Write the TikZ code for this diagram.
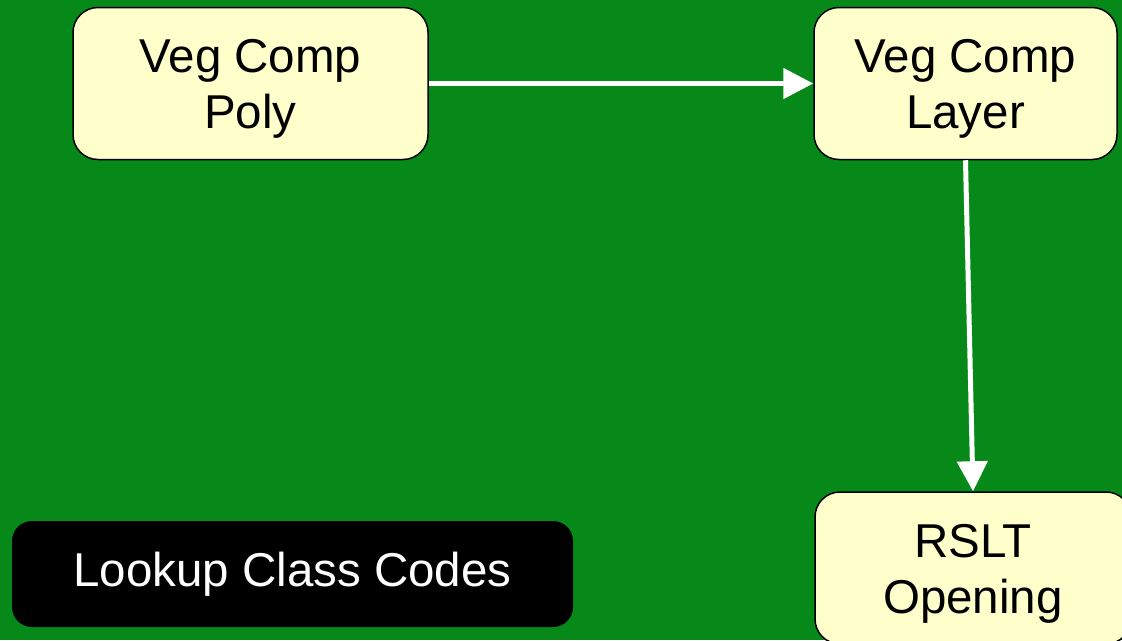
\documentclass[tikz,border=0pt]{standalone}
\usepackage{fontspec}
\setmainfont{Liberation Sans}
\usetikzlibrary{arrows.meta}
\definecolor{bggreen}{HTML}{07891A}
\definecolor{boxfill}{HTML}{FFFFCC}
\tikzset{
  procbox/.style={draw=black, line width=1.5pt, fill=boxfill, rounded corners=25pt,
    minimum height=152pt, inner sep=0pt, align=center, text=black,
    text height=100pt, text depth=10pt,
    font=\fontsize{47.5}{56}\selectfont},
  darkbox/.style={draw=none, fill=black, rounded corners=20pt,
    minimum height=106pt, inner sep=0pt, align=center, text=white,
    font=\fontsize{47.5}{56}\selectfont},
  flow/.style={draw=white, line width=5pt, -{Triangle[length=30pt,width=30pt]}}
}
\begin{document}
\begin{tikzpicture}[x=1pt,y=-1pt]
  \fill[bggreen] (0,0) rectangle (1122,640);
  \useasboundingbox (0,0) rectangle (1122,640);
  \node[procbox, minimum width=355pt] (poly) at (250.5,83.5) {Veg Comp\\Poly};
  \node[procbox, minimum width=303pt] (layer) at (965.5,83.5) {Veg Comp\\Layer};
  \node[procbox, minimum width=316pt] (rslt) at (973,568) {RSLT\\Opening};
  \node[darkbox, minimum width=561pt] (lookup) at (292.5,574) {Lookup Class Codes};
  \draw[flow] (poly.east) -- (layer.west);
  \draw[flow] (layer.south) -- (rslt.north);
\end{tikzpicture}
\end{document}
